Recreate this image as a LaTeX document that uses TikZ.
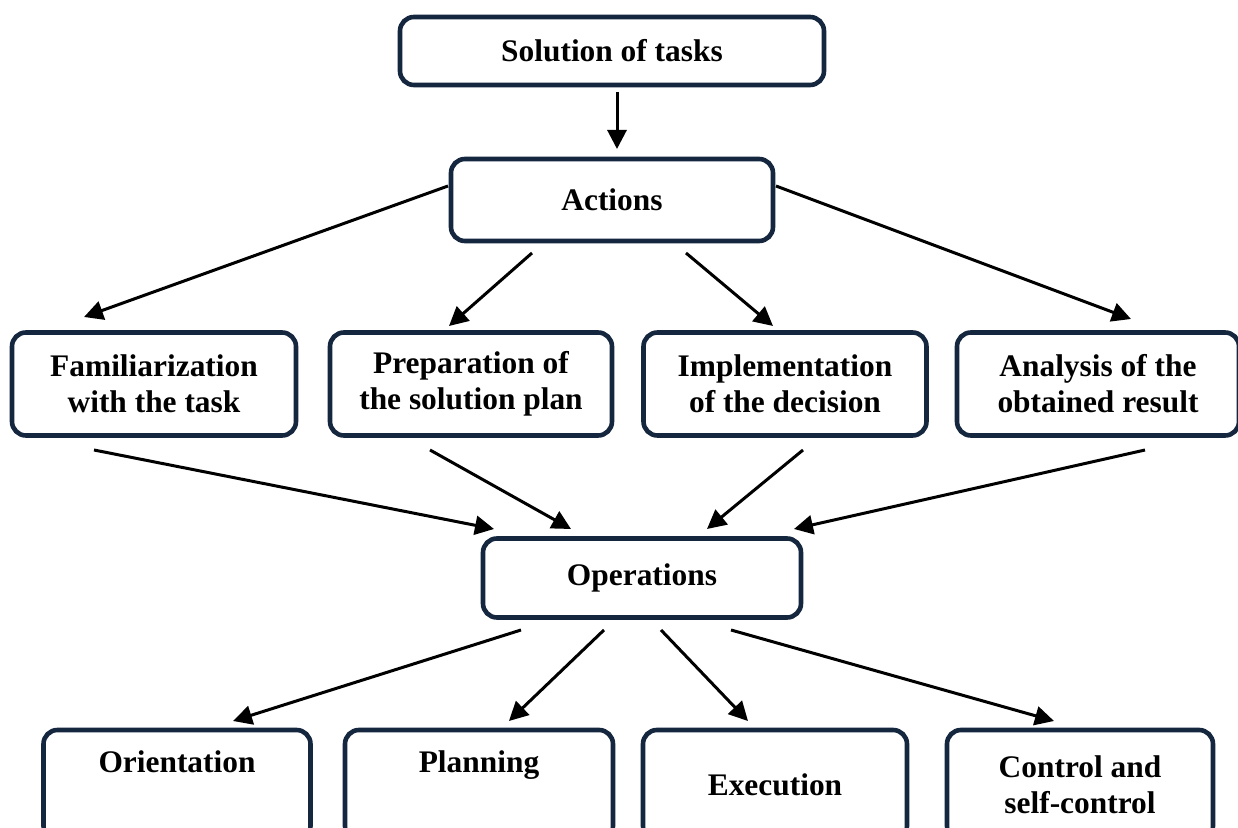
\documentclass[tikz,border=0pt]{standalone}
\usepackage{fontspec}
\setmainfont{Liberation Serif}
\usepackage{tikz}
\usetikzlibrary{arrows.meta,positioning}
\definecolor{navy}{HTML}{15263F}
\tikzset{
  >=Triangle,
  box/.style={rectangle, draw=navy, line width=2.3pt, rounded corners=7pt, fill=white,
    align=center, inner sep=2pt, font=\fontsize{15.7}{18}\selectfont\bfseries},
  arr/.style={->, line width=1.5pt, >={Triangle[length=9.5pt,width=9.5pt]}}
}
\begin{document}
\begin{tikzpicture}[x=0.5pt,y=-0.5pt]
    \useasboundingbox (0,0) rectangle (1238,828);

    % Top
    \node[box, minimum width=212pt, minimum height=34pt] (sol) at (612,51) {Solution of tasks};
    \node[box, minimum width=161pt, minimum height=41pt] (act) at (612,200) {Actions};

    % Actions
    \node[box, minimum width=142pt, minimum height=51.5pt] (fam) at (154,384) {Familiarization\\with the task};
    \node[box, minimum width=141pt, minimum height=51.5pt] (prep) at (471,384) {Preparation of\\the solution plan};
    \node[box, minimum width=141.5pt, minimum height=51.5pt] (impl) at (785,384) {Implementation\\of the decision};
    \node[box, minimum width=141pt, minimum height=51.5pt] (anal) at (1098,384) {Analysis of the\\obtained result};

    % Operations
    \node[box, minimum width=159pt, minimum height=39.5pt] (ops) at (642,578) {Operations};

    \node[box, minimum width=133.5pt, minimum height=55pt] (orient) at (177,785) {Orientation\\\strut};
    \node[box, minimum width=134pt, minimum height=55pt] (plan) at (479,785) {Planning\\\strut};
    \node[box, minimum width=132pt, minimum height=55pt] (exec) at (775,785) {Execution};
    \node[box, minimum width=133pt, minimum height=55pt] (ctrl) at (1080,785) {Control and\\self-control};

    % arrow ends
    \coordinate (s1) at (617,92);   \coordinate (e1) at (617,149);
    \coordinate (s2) at (448,186);  \coordinate (e2) at (84,317);
    \coordinate (s3) at (532,253);  \coordinate (e3) at (449,326);
    \coordinate (s4) at (686,253);  \coordinate (e4) at (773,326);
    \coordinate (s5) at (776,186);  \coordinate (e5) at (1131,319);
    \coordinate (s6) at (94,450);   \coordinate (e6) at (494,529);
    \coordinate (s7) at (430,450);  \coordinate (e7) at (571,529);
    \coordinate (s8) at (803,450);  \coordinate (e8) at (707,529);
    \coordinate (s9) at (1145,450); \coordinate (e9) at (794,529);
    \coordinate (s10) at (521,630); \coordinate (e10) at (233,721);
    \coordinate (s11) at (604,630); \coordinate (e11) at (509,721);
    \coordinate (s12) at (661,630); \coordinate (e12) at (748,721);
    \coordinate (s13) at (731,630); \coordinate (e13) at (1054,721);

    % Arrows
    \foreach \i in {1,...,13}
      \draw[arr] (s\i) -- (e\i);

\end{tikzpicture}
\end{document}
